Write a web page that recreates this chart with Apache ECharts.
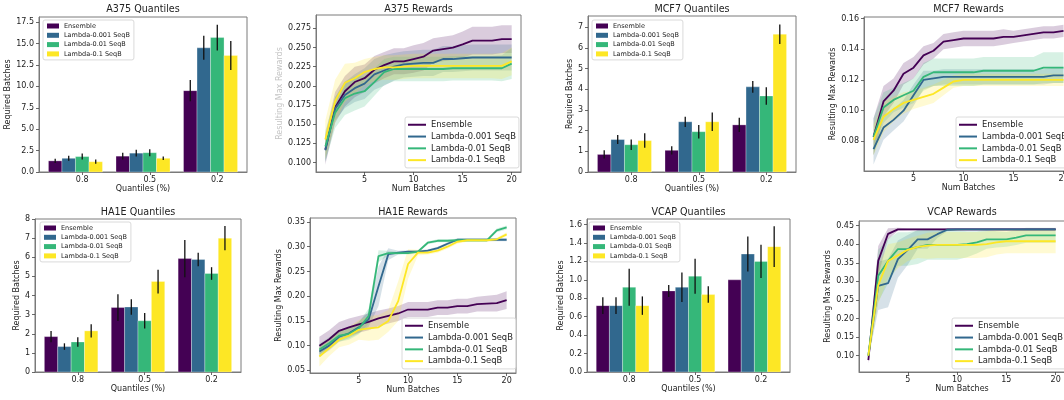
<!DOCTYPE html>
<html>
<head>
<meta charset="utf-8">
<script src="https://cdn.jsdelivr.net/npm/echarts@6/dist/echarts.min.js"></script>
<style>
  html, body { margin: 0; padding: 0; background: #fff; }
  #main { width: 1064px; height: 400px; }
</style>
</head>
<body>
<div id="main"></div>
<script>
'use strict';

var methods = ['Ensemble', 'Lambda-0.001 SeqB', 'Lambda-0.01 SeqB', 'Lambda-0.1 SeqB'];
var colors = ['#440154', '#31688e', '#35b779', '#fde725'];
var quantiles = ['0.8', '0.5', '0.2'];
var batches = [1, 2, 3, 4, 5, 6, 7, 8, 9, 10, 11, 12, 13, 14, 15, 16, 17, 18, 19, 20];

// 柱状图：每个方法在三个分位点上的均值和误差
var a375QMean = [[1.3, 1.85, 9.5], [1.6, 2.2, 14.5], [1.8, 2.25, 15.7], [1.2, 1.6, 13.6]];
var a375QErr = [[0.25, 0.4, 1.25], [0.3, 0.4, 1.4], [0.35, 0.4, 1.5], [0.25, 0.2, 1.7]];
var mcf7QMean = [[0.85, 1.05, 2.28], [1.57, 2.43, 4.12], [1.32, 1.95, 3.68], [1.52, 2.43, 6.67]];
var mcf7QErr = [[0.2, 0.2, 0.35], [0.22, 0.25, 0.28], [0.25, 0.33, 0.42], [0.35, 0.45, 0.47]];
var ha1eQMean = [[1.85, 3.37, 5.93], [1.33, 3.4, 5.88], [1.57, 2.68, 5.15], [2.15, 4.73, 7.0]];
var ha1eQErr = [[0.3, 0.7, 0.97], [0.17, 0.4, 0.35], [0.25, 0.4, 0.33], [0.35, 0.62, 0.63]];
var vcapQMean = [[0.72, 0.88, 1.0], [0.72, 0.92, 1.28], [0.92, 1.04, 1.2], [0.72, 0.84, 1.36]];
var vcapQErr = [[0.09, 0.065, 0], [0.09, 0.16, 0.19], [0.2, 0.19, 0.18], [0.1, 0.09, 0.22]];

// 折线图：均值和阴影带半宽
var a375RMean = [
  [0.117, 0.172, 0.193, 0.205, 0.210, 0.221, 0.227, 0.232, 0.232, 0.235, 0.238, 0.246, 0.248, 0.250, 0.254, 0.259, 0.259, 0.259, 0.261, 0.261],
  [0.116, 0.170, 0.188, 0.197, 0.203, 0.215, 0.220, 0.225, 0.228, 0.229, 0.230, 0.230, 0.235, 0.235, 0.236, 0.237, 0.237, 0.237, 0.237, 0.237],
  [0.121, 0.165, 0.184, 0.190, 0.193, 0.205, 0.218, 0.222, 0.222, 0.222, 0.222, 0.222, 0.222, 0.223, 0.223, 0.223, 0.223, 0.223, 0.223, 0.229],
  [0.130, 0.180, 0.204, 0.210, 0.218, 0.222, 0.224, 0.224, 0.225, 0.226, 0.226, 0.226, 0.226, 0.226, 0.226, 0.226, 0.226, 0.226, 0.226, 0.232]
];
var a375RSd = [
  [0.020, 0.020, 0.020, 0.020, 0.018, 0.018, 0.017, 0.017, 0.017, 0.018, 0.018, 0.016, 0.016, 0.016, 0.017, 0.018, 0.018, 0.018, 0.018, 0.018],
  [0.015, 0.015, 0.017, 0.018, 0.020, 0.020, 0.020, 0.018, 0.017, 0.017, 0.017, 0.017, 0.017, 0.017, 0.017, 0.017, 0.017, 0.017, 0.017, 0.017],
  [0.020, 0.020, 0.022, 0.022, 0.020, 0.018, 0.017, 0.016, 0.016, 0.016, 0.016, 0.016, 0.016, 0.016, 0.016, 0.016, 0.016, 0.016, 0.017, 0.020],
  [0.025, 0.028, 0.025, 0.020, 0.017, 0.016, 0.016, 0.016, 0.016, 0.016, 0.016, 0.016, 0.016, 0.016, 0.016, 0.016, 0.016, 0.016, 0.017, 0.018]
];
var mcf7RMean = [
  [0.083, 0.106, 0.113, 0.124, 0.128, 0.136, 0.139, 0.145, 0.146, 0.147, 0.147, 0.147, 0.147, 0.148, 0.148, 0.149, 0.150, 0.151, 0.151, 0.152],
  [0.075, 0.089, 0.094, 0.100, 0.110, 0.120, 0.121, 0.122, 0.122, 0.122, 0.122, 0.122, 0.122, 0.122, 0.122, 0.122, 0.122, 0.122, 0.123, 0.123],
  [0.083, 0.102, 0.107, 0.110, 0.113, 0.122, 0.125, 0.125, 0.125, 0.125, 0.125, 0.126, 0.126, 0.126, 0.126, 0.126, 0.126, 0.128, 0.128, 0.128],
  [0.081, 0.096, 0.101, 0.105, 0.107, 0.109, 0.111, 0.115, 0.119, 0.120, 0.120, 0.120, 0.120, 0.120, 0.120, 0.120, 0.120, 0.120, 0.120, 0.120]
];
var mcf7RSd = [
  [0.012, 0.010, 0.008, 0.007, 0.007, 0.006, 0.005, 0.005, 0.005, 0.005, 0.005, 0.005, 0.005, 0.005, 0.004, 0.004, 0.004, 0.004, 0.004, 0.004],
  [0.010, 0.008, 0.007, 0.007, 0.007, 0.006, 0.005, 0.005, 0.005, 0.005, 0.005, 0.005, 0.005, 0.005, 0.005, 0.005, 0.005, 0.005, 0.005, 0.005],
  [0.012, 0.010, 0.008, 0.008, 0.008, 0.009, 0.009, 0.009, 0.009, 0.009, 0.009, 0.009, 0.009, 0.009, 0.009, 0.009, 0.009, 0.010, 0.010, 0.010],
  [0.010, 0.010, 0.008, 0.007, 0.006, 0.006, 0.006, 0.005, 0.004, 0.004, 0.004, 0.004, 0.004, 0.004, 0.004, 0.004, 0.004, 0.004, 0.004, 0.004]
];
var ha1eRMean = [
  [0.100, 0.113, 0.130, 0.137, 0.143, 0.148, 0.155, 0.160, 0.165, 0.173, 0.173, 0.173, 0.177, 0.177, 0.180, 0.180, 0.184, 0.185, 0.186, 0.192],
  [0.088, 0.100, 0.118, 0.125, 0.137, 0.153, 0.220, 0.285, 0.288, 0.290, 0.290, 0.292, 0.297, 0.306, 0.314, 0.314, 0.314, 0.314, 0.314, 0.314],
  [0.092, 0.105, 0.120, 0.124, 0.135, 0.160, 0.281, 0.287, 0.287, 0.287, 0.290, 0.308, 0.312, 0.312, 0.313, 0.313, 0.313, 0.313, 0.333, 0.339],
  [0.078, 0.095, 0.112, 0.120, 0.132, 0.135, 0.137, 0.150, 0.190, 0.265, 0.288, 0.288, 0.292, 0.300, 0.310, 0.313, 0.313, 0.313, 0.315, 0.325]
];
var ha1eRSd = [
  [0.018, 0.018, 0.018, 0.018, 0.017, 0.017, 0.016, 0.015, 0.015, 0.015, 0.015, 0.015, 0.015, 0.015, 0.015, 0.015, 0.015, 0.016, 0.017, 0.018],
  [0.010, 0.010, 0.010, 0.010, 0.012, 0.015, 0.040, 0.012, 0.004, 0.003, 0.003, 0.003, 0.003, 0.003, 0.003, 0.003, 0.003, 0.003, 0.003, 0.003],
  [0.012, 0.012, 0.012, 0.012, 0.012, 0.015, 0.012, 0.005, 0.003, 0.003, 0.003, 0.003, 0.003, 0.003, 0.003, 0.003, 0.003, 0.003, 0.004, 0.004],
  [0.020, 0.016, 0.015, 0.018, 0.020, 0.025, 0.025, 0.022, 0.040, 0.030, 0.006, 0.004, 0.004, 0.004, 0.004, 0.003, 0.003, 0.003, 0.003, 0.004]
];
var vcapRMean = [
  [0.088, 0.355, 0.428, 0.440, 0.440, 0.440, 0.440, 0.440, 0.440, 0.440, 0.440, 0.440, 0.440, 0.440, 0.440, 0.440, 0.440, 0.440, 0.440, 0.440],
  [0.100, 0.288, 0.295, 0.360, 0.385, 0.413, 0.413, 0.427, 0.439, 0.440, 0.440, 0.440, 0.440, 0.440, 0.440, 0.440, 0.440, 0.440, 0.440, 0.440],
  [0.100, 0.315, 0.355, 0.387, 0.387, 0.392, 0.398, 0.398, 0.398, 0.398, 0.400, 0.405, 0.413, 0.413, 0.413, 0.418, 0.424, 0.424, 0.424, 0.424],
  [0.100, 0.290, 0.355, 0.370, 0.385, 0.393, 0.396, 0.398, 0.398, 0.398, 0.398, 0.398, 0.400, 0.405, 0.408, 0.408, 0.408, 0.408, 0.408, 0.408]
];
var vcapRSd = [
  [0.010, 0.040, 0.015, 0.004, 0.003, 0.003, 0.003, 0.003, 0.003, 0.003, 0.003, 0.003, 0.003, 0.003, 0.003, 0.003, 0.003, 0.003, 0.003, 0.003],
  [0.010, 0.065, 0.065, 0.050, 0.040, 0.025, 0.025, 0.010, 0.004, 0.003, 0.003, 0.003, 0.003, 0.003, 0.003, 0.003, 0.003, 0.003, 0.003, 0.003],
  [0.010, 0.070, 0.060, 0.045, 0.045, 0.045, 0.040, 0.040, 0.040, 0.040, 0.035, 0.030, 0.025, 0.022, 0.020, 0.020, 0.020, 0.020, 0.020, 0.020],
  [0.010, 0.050, 0.045, 0.035, 0.030, 0.030, 0.035, 0.035, 0.035, 0.035, 0.035, 0.035, 0.035, 0.033, 0.032, 0.032, 0.032, 0.032, 0.032, 0.032]
];

// 刻度
var a375QTicks = [0, 2.5, 5, 7.5, 10, 12.5, 15, 17.5];
var mcf7QTicks = [0, 1, 2, 3, 4, 5, 6, 7];
var ha1eQTicks = [0, 1, 2, 3, 4, 5, 6, 7, 8];
var vcapQTicks = [0, 0.2, 0.4, 0.6, 0.8, 1.0, 1.2, 1.4, 1.6];
var a375RTicks = [0.100, 0.125, 0.150, 0.175, 0.200, 0.225, 0.250, 0.275];
var mcf7RTicks = [0.08, 0.10, 0.12, 0.14, 0.16];
var ha1eRTicks = [0.05, 0.10, 0.15, 0.20, 0.25, 0.30, 0.35];
var vcapRTicks = [0.10, 0.15, 0.20, 0.25, 0.30, 0.35, 0.40, 0.45];
var batchTicks = [5, 10, 15, 20];
var quantileTicks = [0, 1, 2];

var panels = [
  {kind: 'bar', title: 'A375 Quantiles', box: [39, 17, 208, 155], y: [0, 18.1], ticks: a375QTicks, dec: 1, mean: a375QMean, sd: a375QErr, gap: 25, lg: [43, 20]},
  {kind: 'line', title: 'A375 Rewards', box: [316, 15, 205, 157], y: [0.0877, 0.2924], ticks: a375RTicks, dec: 3, mean: a375RMean, sd: a375RSd, gap: 30, lg: [405, 117], faint: true},
  {kind: 'bar', title: 'MCF7 Quantiles', box: [588, 16, 208, 156], y: [0, 7.55], ticks: mcf7QTicks, dec: 0, mean: mcf7QMean, sd: mcf7QErr, gap: 11, lg: [592, 20]},
  {kind: 'line', title: 'MCF7 Rewards', box: [864, 17, 209, 154], y: [0.0607, 0.161], ticks: mcf7RTicks, dec: 2, mean: mcf7RMean, sd: mcf7RSd, gap: 25, lg: [956, 117]},
  {kind: 'bar', title: 'HA1E Quantiles', box: [35, 219, 206, 153], y: [0, 8], ticks: ha1eQTicks, dec: 0, mean: ha1eQMean, sd: ha1eQErr, gap: 13, lg: [40, 222]},
  {kind: 'line', title: 'HA1E Rewards', box: [310, 218, 206, 155], y: [0.0447, 0.358], ticks: ha1eRTicks, dec: 2, mean: ha1eRMean, sd: ha1eRSd, gap: 26, lg: [402, 318]},
  {kind: 'bar', title: 'VCAP Quantiles', box: [587, 219, 203, 153], y: [0, 1.66], ticks: vcapQTicks, dec: 1, mean: vcapQMean, sd: vcapQErr, gap: 21, lg: [589, 222]},
  {kind: 'line', title: 'VCAP Rewards', box: [859, 221, 206, 151], y: [0.056, 0.4625], ticks: vcapRTicks, dec: 2, mean: vcapRMean, sd: vcapRSd, gap: 25, lg: [952, 318]}
];

var textColor = '#222';
var frameColor = '#7a7a7a';
var barW = 0.2;
var fontFamily = 'DejaVu Sans';

function barRender(k) {
  return function (params, api) {
    var x = api.value(0) + (k - 2) * barW;
    var v = api.value(1), e = api.value(2);
    var p0 = api.coord([x - barW / 2, 0]);
    var p1 = api.coord([x + barW / 2, v]);
    var children = [{
      type: 'rect',
      shape: {x: p0[0], y: p1[1], width: p1[0] - p0[0], height: p0[1] - p1[1]},
      style: {fill: api.visual('color'), stroke: 'rgba(255,255,255,0.5)', lineWidth: 0.6}
    }];
    if (e > 0) {
      var e0 = api.coord([x, v - e]);
      var e1 = api.coord([x, v + e]);
      children.push({
        type: 'line',
        shape: {x1: e0[0], y1: e0[1], x2: e1[0], y2: e1[1]},
        style: {stroke: '#111', lineWidth: 1.3}
      });
    }
    return {type: 'group', children: children};
  };
}

function bandRender(params, api) {
  if (params.dataIndexInside !== 0) return;
  var n = params.dataInsideLength, top = [], bot = [];
  for (var i = 0; i < n; i++) {
    top.push(api.coord([api.value(0, i), api.value(2, i)]));
    bot.unshift(api.coord([api.value(0, i), api.value(1, i)]));
  }
  return {
    type: 'polygon',
    shape: {points: top.concat(bot)},
    style: {fill: api.visual('color'), opacity: 0.2}
  };
}

var option = {
  animation: false,
  backgroundColor: '#fff',
  textStyle: {fontFamily: fontFamily},
  title: [], grid: [], xAxis: [], yAxis: [], legend: [], series: []
};

panels.forEach(function (p, gi) {
  var isBar = p.kind === 'bar';
  var row2 = p.box[1] > 200;

  option.title.push({
    text: p.title,
    left: p.box[0] + p.box[2] / 2,
    top: row2 ? 207 : 4.5,
    textAlign: 'center',
    padding: 0,
    textStyle: {fontSize: 9.6, fontWeight: 'normal', color: textColor, fontFamily: fontFamily}
  });

  option.grid.push({
    left: p.box[0], top: p.box[1], width: p.box[2], height: p.box[3],
    containLabel: false, outerBoundsMode: 'none',
    show: true, borderColor: frameColor, borderWidth: 1, backgroundColor: 'transparent'
  });

  var xTicks = isBar ? quantileTicks : batchTicks;
  option.xAxis.push({
    type: 'value', gridIndex: gi,
    min: isBar ? -0.64 : 0.05, max: isBar ? 2.44 : 20.95,
    name: isBar ? 'Quantiles (%)' : 'Num Batches',
    nameLocation: 'middle', nameGap: 12,
    nameTextStyle: {fontSize: 8, color: textColor, fontFamily: fontFamily},
    axisLine: {show: true, onZero: false, lineStyle: {color: frameColor, width: 1}},
    axisTick: {show: true, length: 3, customValues: xTicks, lineStyle: {color: '#444', width: 0.8}},
    axisLabel: {
      show: true, margin: 4, fontSize: 8, color: textColor, customValues: xTicks,
      formatter: function (v) { return isBar ? quantiles[Math.round(v)] : String(v); }
    },
    splitLine: {show: false}
  });

  option.yAxis.push({
    type: 'value', gridIndex: gi,
    min: p.y[0], max: p.y[1],
    name: isBar ? 'Required Batches' : 'Resulting Max Rewards',
    nameLocation: 'middle', nameGap: p.gap,
    nameTextStyle: {fontSize: 8, color: p.faint ? '#c4c4c4' : textColor, fontFamily: fontFamily},
    axisLine: {show: true, onZero: false, lineStyle: {color: frameColor, width: 1}},
    axisTick: {show: true, length: 3, customValues: p.ticks, lineStyle: {color: '#444', width: 0.8}},
    axisLabel: {
      show: true, margin: 5, fontSize: 8, color: textColor, customValues: p.ticks,
      formatter: function (v) { return v.toFixed(p.dec); }
    },
    splitLine: {show: false}
  });

  option.legend.push({
    data: methods,
    orient: 'vertical',
    left: p.lg[0], top: p.lg[1],
    icon: 'rect',
    itemWidth: isBar ? 12 : 18,
    itemHeight: isBar ? 5 : 2,
    itemGap: isBar ? 1.3 : 2.3,
    padding: isBar ? [2, 4] : [3, 3],
    backgroundColor: 'rgba(255,255,255,0.85)',
    borderColor: '#d0d0d0', borderWidth: 0.8, borderRadius: 2,
    selectedMode: false,
    textStyle: {fontSize: isBar ? 6.5 : 8.4, lineHeight: isBar ? 8 : 9.5, color: textColor, fontFamily: fontFamily}
  });

  methods.forEach(function (name, k) {
    if (isBar) {
      option.series.push({
        type: 'custom', name: name, xAxisIndex: gi, yAxisIndex: gi,
        itemStyle: {color: colors[k]},
        renderItem: barRender(k),
        encode: {x: 0, y: 1},
        data: quantileTicks.map(function (q, j) { return [q, p.mean[k][j], p.sd[k][j]]; }),
        z: 2
      });
    } else {
      option.series.push({
        type: 'custom', name: 'band-' + k, xAxisIndex: gi, yAxisIndex: gi,
        itemStyle: {color: colors[k]},
        renderItem: bandRender,
        clip: true,
        encode: {x: 0, y: [1, 2]},
        data: batches.map(function (b, j) {
          return [b, p.mean[k][j] - p.sd[k][j], p.mean[k][j] + p.sd[k][j]];
        }),
        z: 1
      });
    }
  });

  if (!isBar) {
    methods.forEach(function (name, k) {
      option.series.push({
        type: 'line', name: name, xAxisIndex: gi, yAxisIndex: gi,
        color: colors[k],
        showSymbol: false, symbol: 'none',
        lineStyle: {width: 1.8, color: colors[k]},
        itemStyle: {color: colors[k]},
        data: batches.map(function (b, j) { return [b, p.mean[k][j]]; }),
        z: 3
      });
    });
  }
});

var myChart = echarts.init(document.getElementById('main'), null, {renderer: 'canvas'});
myChart.setOption(option);
</script>
</body>
</html>
